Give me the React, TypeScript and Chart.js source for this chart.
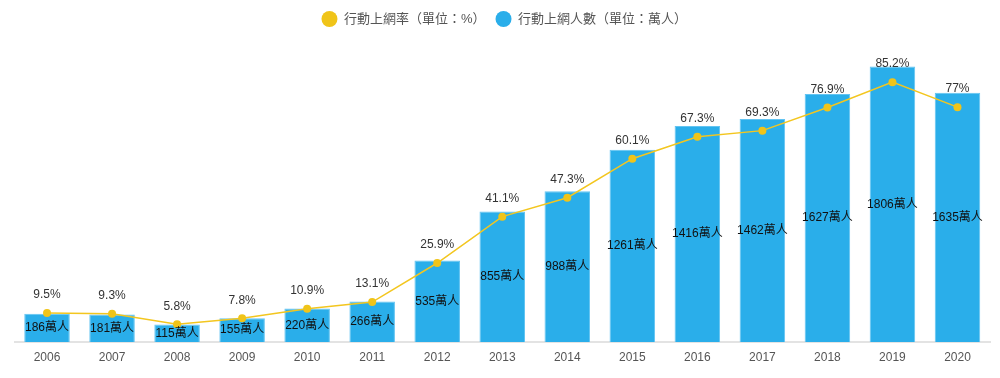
import React, { useEffect, useRef } from "react";
import { Chart, registerables } from "chart.js";

Chart.register(...registerables);

const years = ["2006", "2007", "2008", "2009", "2010", "2011", "2012", "2013", "2014", "2015", "2016", "2017", "2018", "2019", "2020"];
const rateValues = [9.5, 9.3, 5.8, 7.8, 10.9, 13.1, 25.9, 41.1, 47.3, 60.1, 67.3, 69.3, 76.9, 85.2, 77];
const userValues = [186, 181, 115, 155, 220, 266, 535, 855, 988, 1261, 1416, 1462, 1627, 1806, 1635];
const rateLabel = "行動上網率（單位：%）";
const userLabel = "行動上網人數（單位：萬人）";

const FONT = '"Liberation Sans", "Noto Sans CJK TC", sans-serif';

const valueLabels = {
  id: "valueLabels",
  afterDatasetsDraw(chart: any) {
    const ctx = chart.ctx;
    ctx.save();
    ctx.font = "12px " + FONT;
    ctx.textAlign = "center";
    ctx.textBaseline = "middle";
    const barMeta = chart.getDatasetMeta(1);
    barMeta.data.forEach((el: any, i: number) => {
      const p = el.getProps(["x", "y", "base"], true);
      ctx.fillStyle = "#111";
      ctx.fillText(userValues[i] + "萬人", p.x, (p.y + p.base) / 2);
    });
    const lineMeta = chart.getDatasetMeta(0);
    lineMeta.data.forEach((el: any, i: number) => {
      ctx.fillStyle = "#333";
      ctx.fillText(rateValues[i] + "%", el.x, el.y - 18);
    });
    ctx.restore();
  },
};

export default function App() {
  const ref = useRef<HTMLCanvasElement>(null);
  useEffect(() => {
    if (!ref.current) return;
    const chart = new Chart(ref.current, {
      type: "bar",
      data: {
        labels: years,
        datasets: [
          {
            type: "line",
            label: rateLabel,
            data: rateValues,
            yAxisID: "y1",
            borderColor: "#f3c61f",
            backgroundColor: "#f3c61f",
            borderWidth: 1.5,
            pointRadius: 4,
            pointBackgroundColor: "#f0c419",
            pointBorderWidth: 0,
            tension: 0,
          },
          {
            type: "bar",
            label: userLabel,
            data: userValues,
            yAxisID: "y",
            backgroundColor: "#2aaeea",
            borderColor: "#62c4f2",
            borderWidth: 1,
            categoryPercentage: 1,
            barPercentage: 0.7,
          },
        ],
      },
      options: {
        animation: false,
        responsive: true,
        maintainAspectRatio: false,
        layout: { padding: { left: 6.5, right: 0, top: 1, bottom: 5.6 } },
        plugins: {
          tooltip: { enabled: false },
          legend: {
            position: "top",
            labels: {
              boxWidth: 16,
              boxHeight: 16,
              useBorderRadius: true,
              borderRadius: 8,
              padding: 10,
              color: "#555",
              font: { size: 13, family: FONT },
              generateLabels(c: any) {
                return c.data.datasets.map((d: any, i: number) => ({
                  text: d.label,
                  fillStyle: i === 0 ? "#f0c419" : "#2aaeea",
                  strokeStyle: i === 0 ? "#f0c419" : "#2aaeea",
                  lineWidth: 0,
                  borderRadius: 8,
                  fontColor: "#555",
                  datasetIndex: i,
                  hidden: false,
                }));
              },
            },
          },
        },
        scales: {
          x: {
            offset: true,
            grid: { display: false, drawTicks: false },
            border: { display: true, color: "#e3e3e3", width: 2 },
            ticks: { color: "#555", padding: 8, font: { size: 12, family: FONT } },
          },
          y: { display: false, min: 0, max: 2000 },
          y1: { display: false, min: 0, max: 100 },
        },
      },
      plugins: [valueLabels],
    } as any);
    return () => chart.destroy();
  }, []);
  return (
    <div style={{ position: "absolute", top: 0, left: 8, width: 986, height: 378 }}>
      <canvas ref={ref} />
    </div>
  );
}
